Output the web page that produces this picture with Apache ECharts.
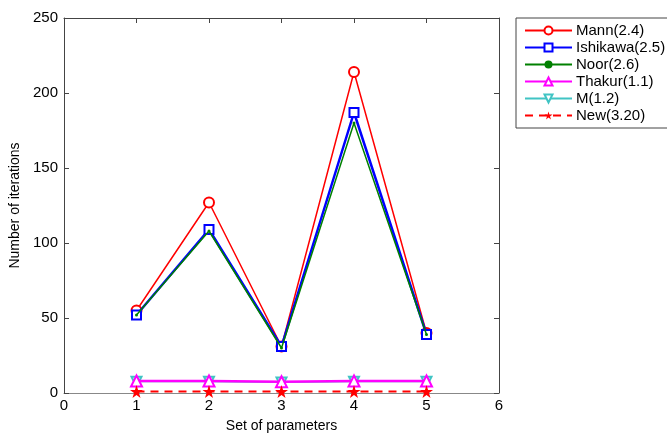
<!DOCTYPE html>
<html>
<head>
<meta charset="utf-8">
<script src="https://cdn.jsdelivr.net/npm/echarts@6/dist/echarts.min.js"></script>
<style>html,body{margin:0;padding:0;background:#fff;}#c{width:667px;height:438px;}</style>
</head>
<body>
<div id="c"></div>
<script>
var xValues = [1, 2, 3, 4, 5];
var mann = [55, 127, 31, 214, 40];
var ishikawa = [52, 109, 31, 187, 39];
var noor = [52, 108, 30, 180, 39];
var thakur = [8, 8, 7.5, 8, 8];
var mIter = [7.5, 7.5, 7, 7.5, 7.5];
var newIter = [1, 1, 1, 1, 1];
var seriesNames = ['Mann(2.4)', 'Ishikawa(2.5)', 'Noor(2.6)', 'Thakur(1.1)', 'M(1.2)', 'New(3.20)'];

function pairs(arr) { return xValues.map(function (x, i) { return [x, arr[i]]; }); }
var starPath = 'path://M50,0 L61.8,36.2 L100,36.2 L69.1,58.6 L80.9,95.1 L50,72.7 L19.1,95.1 L30.9,58.6 L0,36.2 L38.2,36.2 Z';
var font = 'Liberation Sans, Arial, sans-serif';
var axisColor = '#444';

var chart = echarts.init(document.getElementById('c'), null, {renderer: 'canvas'});
chart.setOption({
  animation: false,
  backgroundColor: '#fff',
  textStyle: {fontFamily: font},
  grid: {left: 64, right: 168, top: 18, bottom: 42, containLabel: false},
  legend: {
    orient: 'vertical', left: 516, top: 18,
    data: seriesNames,
    itemWidth: 47, itemHeight: 10, itemGap: 2,
    padding: [5, 30, 5, 8],
    borderColor: '#444', borderWidth: 1,
    textStyle: {fontFamily: font, fontSize: 15, lineHeight: 15, color: '#000', padding: [0, 0, 0, -1]},
    backgroundColor: '#fff'
  },
  xAxis: [{
    type: 'value', min: 0, max: 6, interval: 1,
    name: 'Set of parameters', nameLocation: 'middle', nameGap: 26,
    nameTextStyle: {fontSize: 14, color: '#000', fontFamily: font},
    axisLine: {show: true, onZero: false, lineStyle: {color: '#888', width: 1}},
    axisTick: {show: true, inside: true, length: 5, lineStyle: {color: axisColor}},
    axisLabel: {fontSize: 15, color: '#000', margin: 5, fontFamily: font},
    splitLine: {show: false}
  }, {
    type: 'value', min: 0, max: 6, interval: 1, position: 'top',
    axisLine: {show: true, onZero: false, lineStyle: {color: axisColor, width: 1}},
    axisTick: {show: true, inside: true, length: 5, lineStyle: {color: axisColor}},
    axisLabel: {show: false}, splitLine: {show: false}
  }],
  yAxis: [{
    type: 'value', min: 0, max: 250, interval: 50,
    name: 'Number of iterations', nameLocation: 'middle', nameGap: 39, nameRotate: 90,
    nameTextStyle: {fontSize: 14, color: '#000', fontFamily: font},
    axisLine: {show: true, onZero: false, lineStyle: {color: axisColor, width: 1}},
    axisTick: {show: true, inside: true, length: 5, lineStyle: {color: axisColor}},
    axisLabel: {fontSize: 15, color: '#000', margin: 6, fontFamily: font},
    splitLine: {show: false}
  }, {
    type: 'value', min: 0, max: 250, interval: 50, position: 'right',
    axisLine: {show: true, onZero: false, lineStyle: {color: axisColor, width: 1}},
    axisTick: {show: true, inside: true, length: 5, lineStyle: {color: axisColor}},
    axisLabel: {show: false}, splitLine: {show: false}
  }],
  series: [
    {name: seriesNames[0], type: 'line', data: pairs(mann), symbol: 'emptyCircle', symbolSize: 10,
     itemStyle: {color: '#ff0000', borderWidth: 1.5}, lineStyle: {color: '#ff0000', width: 1.5}, z: 3},
    {name: seriesNames[1], type: 'line', data: pairs(ishikawa), symbol: 'emptyRect', symbolSize: 9,
     itemStyle: {color: '#0000ff', borderWidth: 2}, lineStyle: {color: '#0000ff', width: 2.5}, z: 4},
    {name: seriesNames[2], type: 'line', data: pairs(noor), symbol: 'circle', symbolSize: 3,
     itemStyle: {color: '#008000'}, lineStyle: {color: '#008000', width: 1.5}, z: 5},
    {name: seriesNames[3], type: 'line', data: pairs(thakur), symbol: 'emptyTriangle', symbolSize: 11,
     itemStyle: {color: '#ff00ff', borderWidth: 1.5}, lineStyle: {color: '#ff00ff', width: 2.5}, z: 5},
    {name: seriesNames[4], type: 'line', data: pairs(mIter), symbol: 'emptyTriangle', symbolRotate: 180, symbolSize: 10,
     itemStyle: {color: '#40c4c4', borderWidth: 1}, lineStyle: {color: '#40c4c4', width: 1}, z: 4},
    {name: seriesNames[5], type: 'line', data: pairs(newIter), symbol: starPath, symbolSize: 13,
     itemStyle: {color: '#ff0000', borderWidth: 0}, lineStyle: {color: '#ff0000', width: 2, type: [8, 6]}, z: 6}
  ]
});
</script>
</body>
</html>
